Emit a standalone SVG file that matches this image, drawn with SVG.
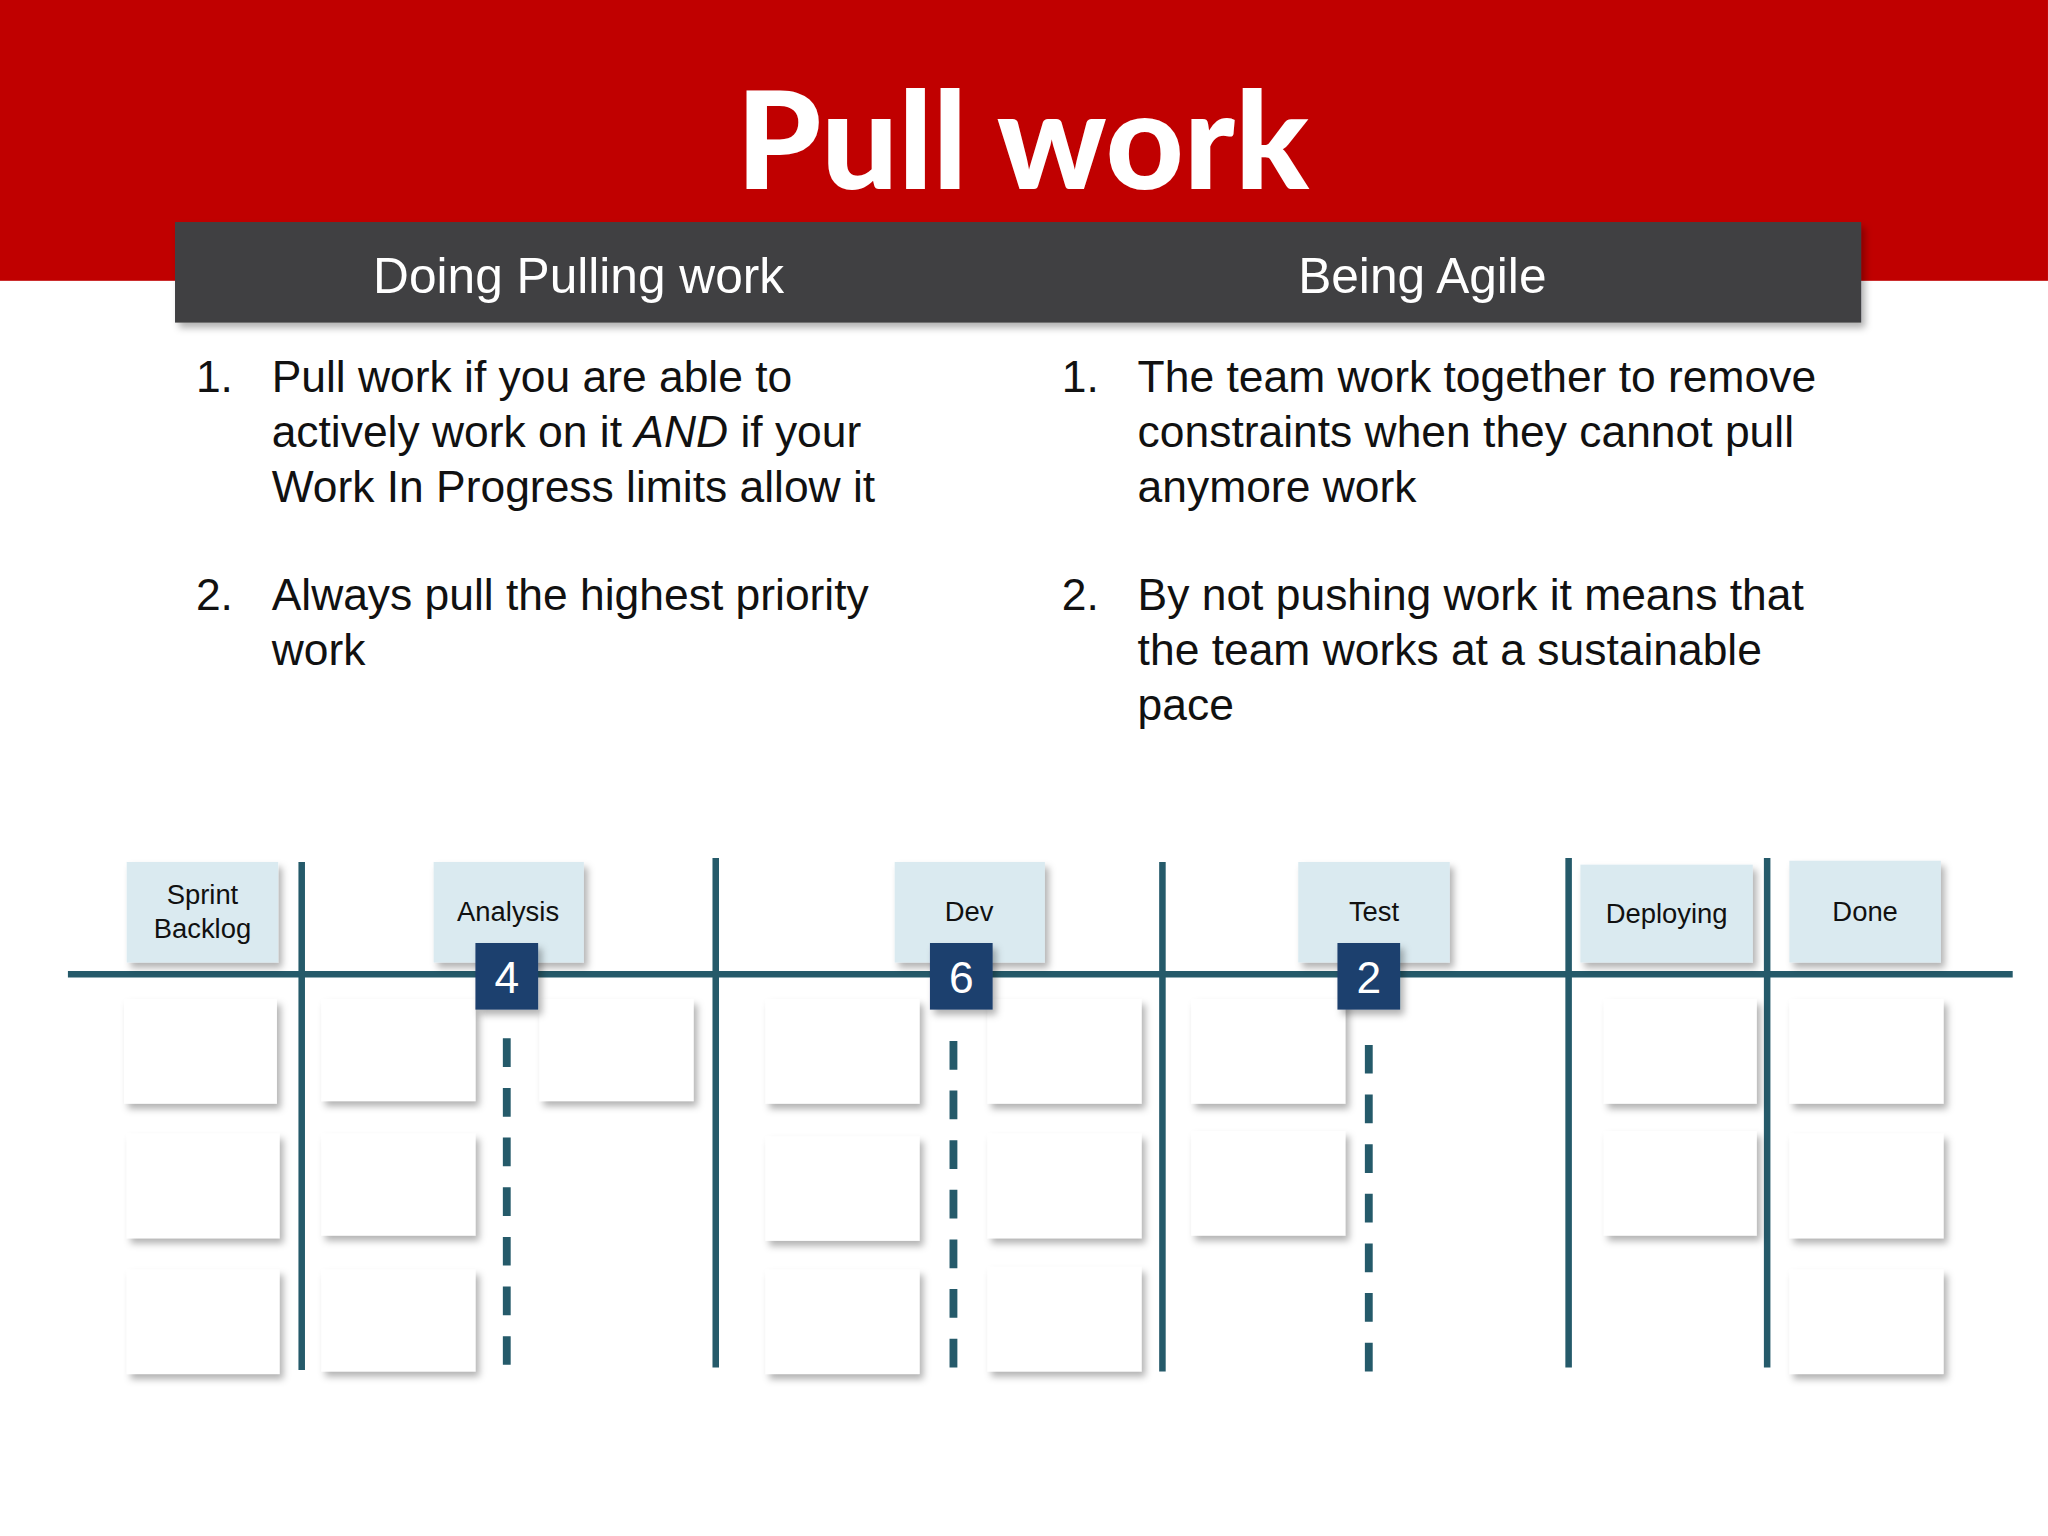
<svg xmlns="http://www.w3.org/2000/svg" width="2048" height="1536" viewBox="0 0 2048 1536">
<defs>
<filter id="sh" x="-20%" y="-20%" width="150%" height="150%"><feDropShadow dx="3" dy="4" stdDeviation="3" flood-color="#000" flood-opacity="0.3"/></filter>
<style>
.t{font-family:"Liberation Sans",Arial,sans-serif}
.li{font-family:"Liberation Sans",Arial,sans-serif;font-size:34px;fill:#111}
.hd{fill:#daeaf0;filter:url(#sh)}
.hl{font-family:"Liberation Sans",Arial,sans-serif;font-size:21px;fill:#111;text-anchor:middle}
.cd{fill:#fff;filter:url(#sh)}
.vl{stroke:#255a6a;stroke-width:5}
.dl{stroke:#255a6a;stroke-width:6;stroke-dasharray:22 16}
.nb{fill:#1f3f6e}
.nt{font-family:"Liberation Sans",Arial,sans-serif;font-size:34px;fill:#fff;text-anchor:middle}
</style>
</defs>
<rect width="2048" height="1536" fill="#fff"/>
<g transform="scale(1.3061)">
<g id="banner">
<rect x="0" y="0" width="1568" height="215" fill="#c00000"/>
<text x="783" y="145" class="t" font-size="104" font-weight="bold" fill="#fff" text-anchor="middle" style="font-family:Lato,'Liberation Sans',sans-serif;font-weight:900">Pull work</text>
</g>
<g id="header">
<rect x="134" y="170" width="1291" height="77" fill="#404043" filter="url(#sh)"/>
<text x="443" y="224" class="t" font-size="38" fill="#fff" text-anchor="middle">Doing Pulling work</text>
<text x="1089" y="224" class="t" font-size="38" fill="#fff" text-anchor="middle">Being Agile</text>
</g>
<g id="left-list">
<text x="150" y="300" class="li">1.</text>
<text x="208" y="300" class="li">Pull work if you are able to</text>
<text x="208" y="342" class="li">actively work on it <tspan font-style="italic">AND</tspan> if your</text>
<text x="208" y="384" class="li">Work In Progress limits allow it</text>
<text x="150" y="467" class="li">2.</text>
<text x="208" y="467" class="li">Always pull the highest priority</text>
<text x="208" y="509" class="li">work</text>
</g>
<g id="right-list">
<text x="813" y="300" class="li">1.</text>
<text x="871" y="300" class="li">The team work together to remove</text>
<text x="871" y="342" class="li">constraints when they cannot pull</text>
<text x="871" y="384" class="li">anymore work</text>
<text x="813" y="467" class="li">2.</text>
<text x="871" y="467" class="li">By not pushing work it means that</text>
<text x="871" y="509" class="li">the team works at a sustainable</text>
<text x="871" y="551" class="li">pace</text>
</g>
<g id="connectors">
<line x1="52" y1="746" x2="1541" y2="746" class="vl"/>
<line x1="231" y1="660" x2="231" y2="1049" class="vl"/>
<line x1="548" y1="657" x2="548" y2="1047" class="vl"/>
<line x1="890" y1="660" x2="890" y2="1050" class="vl"/>
<line x1="1201" y1="657" x2="1201" y2="1047" class="vl"/>
<line x1="1353" y1="657" x2="1353" y2="1047" class="vl"/>
<line x1="388" y1="795" x2="388" y2="1047" class="dl"/>
<line x1="730" y1="797" x2="730" y2="1050" class="dl"/>
<line x1="1048" y1="800" x2="1048" y2="1055" class="dl"/>
</g>
<g id="cards">
<rect class="cd" x="95" y="765" width="117" height="80"/>
<rect class="cd" x="97" y="868" width="117" height="80"/>
<rect class="cd" x="97" y="972" width="117" height="80"/>
<rect class="cd" x="246" y="765" width="118" height="78"/>
<rect class="cd" x="246" y="868" width="118" height="78"/>
<rect class="cd" x="246" y="972" width="118" height="78"/>
<rect class="cd" x="413" y="765" width="118" height="78"/>
<rect class="cd" x="586" y="765" width="118" height="80"/>
<rect class="cd" x="586" y="870" width="118" height="80"/>
<rect class="cd" x="586" y="972" width="118" height="80"/>
<rect class="cd" x="756" y="765" width="118" height="80"/>
<rect class="cd" x="756" y="868" width="118" height="80"/>
<rect class="cd" x="756" y="970" width="118" height="80"/>
<rect class="cd" x="912" y="765" width="118" height="80"/>
<rect class="cd" x="912" y="866" width="118" height="80"/>
<rect class="cd" x="1228" y="765" width="117" height="80"/>
<rect class="cd" x="1228" y="866" width="117" height="80"/>
<rect class="cd" x="1370" y="765" width="118" height="80"/>
<rect class="cd" x="1370" y="868" width="118" height="80"/>
<rect class="cd" x="1370" y="972" width="118" height="80"/>
</g>
<g id="col-sprint"><rect class="hd" x="97" y="660" width="116" height="77"/><text class="hl" x="155" y="692">Sprint</text><text class="hl" x="155" y="718">Backlog</text></g>
<g id="col-analysis"><rect class="hd" x="332" y="660" width="115" height="77"/><text class="hl" x="389" y="705">Analysis</text></g>
<g id="col-dev"><rect class="hd" x="685" y="660" width="115" height="77"/><text class="hl" x="742" y="705">Dev</text></g>
<g id="col-test"><rect class="hd" x="994" y="660" width="116" height="77"/><text class="hl" x="1052" y="705">Test</text></g>
<g id="col-deploying"><rect class="hd" x="1210" y="662" width="132" height="75"/><text class="hl" x="1276" y="707">Deploying</text></g>
<g id="col-done"><rect class="hd" x="1370" y="659" width="116" height="78"/><text class="hl" x="1428" y="705">Done</text></g>
<g id="wip4"><rect class="nb" x="364" y="722" width="48" height="51" filter="url(#sh)"/><text class="nt" x="388" y="760">4</text></g>
<g id="wip6"><rect class="nb" x="712" y="722" width="48" height="51" filter="url(#sh)"/><text class="nt" x="736" y="760">6</text></g>
<g id="wip2"><rect class="nb" x="1024" y="722" width="48" height="51" filter="url(#sh)"/><text class="nt" x="1048" y="760">2</text></g>
</g>
</svg>
